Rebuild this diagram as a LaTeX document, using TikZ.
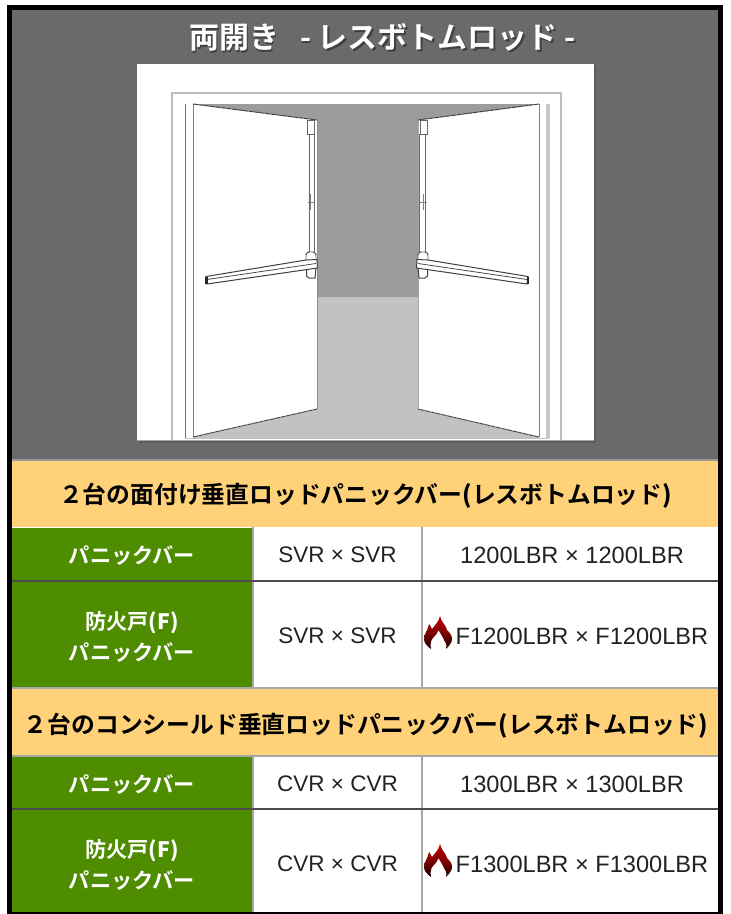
\documentclass[tikz,border=0pt]{standalone}
\usepackage{fontspec}
\setmainfont{Liberation Sans}
\newfontfamily\cjk{Noto Sans CJK JP}
\newfontfamily\cjkb{Noto Sans CJK JP Bold}
\definecolor{wallgray}{HTML}{6A6A6A}
\definecolor{headorange}{HTML}{FFD27A}
\definecolor{cellgreen}{HTML}{4E8D00}
\definecolor{backwall}{HTML}{9C9C9C}
\definecolor{floorgray}{HTML}{C2C2C2}
\definecolor{txt}{HTML}{222222}
\tikzset{
  headtxt/.style={font=\cjkb\fontsize{23.8}{26}\selectfont, text=black, inner sep=0pt},
  greentxt/.style={font=\cjkb\fontsize{21.2}{31}\selectfont, text=white, inner sep=0pt, align=center},
  celltxt/.style={font=\fontsize{22.5}{26}\selectfont, text=txt, inner sep=0pt},
  lbrtxt/.style={font=\fontsize{23.6}{26}\selectfont, text=txt, inner sep=0pt},
  frameline/.style={draw=black!25, line width=2},
  doorface/.style={fill=white, draw=none},
  hw/.style={draw=black!60, line width=0.9, fill=white},
  hwd/.style={draw=black!75, line width=1},
  sep/.style={line width=2, draw=#1},
}
\newcommand{\flame}[2]{%
  \begin{scope}[shift={(#1,#2)}]
    \shade[top color=red!75!black, bottom color=black!90!red, middle color=red!50!black]
      (16,0) .. controls (17,6) and (22,9) .. (23,14)
      .. controls (26,17) and (28.5,20) .. (28,24)
      .. controls (27.5,27) and (25,30) .. (22,33)
      .. controls (23,29) and (22,26) .. (20,24)
      .. controls (19,21) and (16,17) .. (14.5,14)
      .. controls (13,18) and (11,20) .. (9,22)
      .. controls (7,24) and (6,28) .. (7,33)
      .. controls (3,30) and (0,27) .. (0,23)
      .. controls (0,18) and (4,14) .. (5,8)
      .. controls (6,9) and (7,11) .. (8,13)
      .. controls (10,10) and (15,6) .. (16,0) -- cycle;
  \end{scope}}
\newcommand{\hardware}{%
  \draw[hw] (309,134) rectangle (314.5,252);
  \draw[black!50, line width=0.6] (310.5,194) -- (310.5,210);
  \draw[black!50, line width=0.9] (307.5,202) -- (314,202);
  \draw[hw] (307,120.5) rectangle (314,134);
  \draw[hwd, fill=white] (306.5,267) -- (306.5,276) -- (309,278) -- (315,278) -- (316,267) -- cycle;
  \draw[hw, rounded corners=1.5] (306,262) -- (306,254) -- (308,252) -- (314,252) -- (316,254) -- (316,262) -- cycle;
  \draw[hwd, fill=white] (206,276.5) -- (306,260) -- (317,259.5) -- (317.5,268) -- (207,284) -- cycle;
  \draw[black!70, line width=0.8] (207,279.5) -- (316,263.5);
  \fill[black!85] (205,276.5) rectangle (207.5,284);
}
\begin{document}
\begin{tikzpicture}[x=1pt,y=-1pt]
\useasboundingbox (0,0) rectangle (731,914);
\fill[white] (0,0) rectangle (731,914);
% gray panel
\fill[wallgray] (12,10) rectangle (718,459);
% picture
\fill[black!75, opacity=.35] (139,66) rectangle (596,443);
\fill[white] (137,64) rectangle (594,440.5);
\draw[black!35, line width=0.8] (137,440.5) -- (594,440.5);
\draw[frameline] (172,440) -- (172,92.5) -- (561,92.5) -- (561,440);
\fill[backwall] (185,103.5) rectangle (549,297);
\fill[floorgray] (185,297) rectangle (549,439);
% doors
\fill[white] (186,104) rectangle (193,438);
\fill[white] (539,104) rectangle (547,438);
\draw[black!55, line width=1] (185,103.5) -- (185,438);
\draw[black!22, line width=3.5] (548,104) -- (548,438);
\fill[doorface] (193,104) -- (317,120) -- (317,409) -- (193,437) -- cycle;
\fill[doorface] (539,104) -- (418,120) -- (418,409) -- (539,437) -- cycle;
\draw[black!50, line width=1] (193,104) -- (193,437);
\draw[black!50, line width=1] (539,104) -- (539,437);
\draw[black!45, line width=1] (317,120) -- (317,409);
\draw[black!35, line width=1] (418,120) -- (418,409);
\draw[black!75, line width=1, dash pattern=on 5pt off .6pt] (193,104) -- (317,120);
\draw[black!75, line width=1, dash pattern=on 5pt off .6pt] (539,104) -- (418,120);
\draw[black!70, line width=1, dash pattern=on 5pt off .6pt] (193,437) -- (317,409);
\draw[black!70, line width=1, dash pattern=on 5pt off .6pt] (539,437) -- (418,409);
% hardware
\hardware
\begin{scope}[shift={(734,0)},xscale=-1]\hardware\end{scope}
% title
\node[inner sep=0pt, text=black!75, font=\cjkb\fontsize{30}{32}\selectfont] (titleshadow) at (384,39) {両開き\hspace{.7em}- レスボトムロッド -};
\node[inner sep=0pt, text=white, font=\cjkb\fontsize{30}{32}\selectfont] (title) at (382.5,37.5) {両開き\hspace{.7em}- レスボトムロッド -};
% table
\fill[white] (12,459) rectangle (718,912);
\draw[black!40, line width=2] (12,460) -- (718,460);
\fill[headorange] (12,461) rectangle (718,527);
\fill[headorange] (12,689) rectangle (718,755);
\fill[cellgreen] (12,528) rectangle (252,580);
\fill[cellgreen] (12,582) rectangle (252,687);
\fill[cellgreen] (12,757) rectangle (252,808);
\fill[cellgreen] (12,810) rectangle (252,912);
\foreach \a/\b in {527/581,581/688,756/809,809/912}{
  \draw[black!35, line width=2] (253,\a) -- (253,\b);
  \draw[black!35, line width=2] (421.5,\a) -- (421.5,\b);
}
\draw[sep=black!70] (12,581) -- (718,581);
\draw[sep=black!70] (12,809) -- (718,809);
\draw[sep=black!35] (12,688) -- (718,688);
\draw[sep=black!35] (12,756) -- (718,756);
\node[headtxt] (h1) at (365.5,496) {{\cjkb ２台の面付け垂直ロッドパニックバー}{\bfseries(}{\cjkb レスボトムロッド}{\bfseries)}};
\node[headtxt] (h2) at (366,726) {{\cjkb ２台のコンシールド垂直ロッドパニックバー}{\bfseries(}{\cjkb レスボトムロッド}{\bfseries)}};
\node[greentxt] (g1) at (132,556) {パニックバー};
\node[greentxt] (g2) at (132,637) {防火戸{\bfseries(F)}\\パニックバー};
\node[greentxt] (g3) at (132,785) {パニックバー};
\node[greentxt] (g4) at (132,865) {防火戸{\bfseries(F)}\\パニックバー};
\node[celltxt] (a1) at (337.5,555) {SVR × SVR};
\node[celltxt] (a2) at (337.5,636) {SVR × SVR};
\node[celltxt] (a3) at (337.5,784) {CVR × CVR};
\node[celltxt] (a4) at (337.5,864) {CVR × CVR};
\node[lbrtxt] (b1) at (572,555) {1200LBR × 1200LBR};
\node[lbrtxt] (b2) at (582,636) {F1200LBR × F1200LBR};
\node[lbrtxt] (b3) at (572,784) {1300LBR × 1300LBR};
\node[lbrtxt] (b4) at (582,864) {F1300LBR × F1300LBR};
\flame{424}{616}
\flame{424}{844}
% outer border
\draw[black, line width=5] (9.5,7.5) rectangle (720.5,914.5);
\end{tikzpicture}
\end{document}
